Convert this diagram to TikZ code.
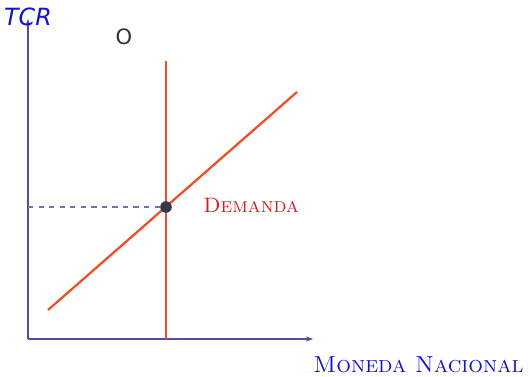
\documentclass[tikz,border=0pt]{standalone}
\usepackage{fontspec}
\usepackage{xcolor}
\usetikzlibrary{arrows.meta,positioning}
\newfontfamily\dejavu{DejaVu Sans}
\definecolor{axisviolet}{RGB}{95,70,160}
\definecolor{curvered}{RGB}{240,80,40}
\definecolor{labelblue}{RGB}{20,20,200}
\definecolor{labelred}{RGB}{215,25,30}
\definecolor{dotgray}{RGB}{55,55,75}

\begin{document}
\begin{tikzpicture}[
  x=0.02cm,
  y=-0.02cm,
  axis/.style={-{Stealth[length=4pt,width=3pt]}, line width=1pt, color=axisviolet},
  curve/.style={line width=1.3pt, color=curvered},
  guide/.style={dashed, line width=0.6pt, color=axisviolet!80},
  label/.style={inner sep=0pt}
]
  \useasboundingbox (0,0) rectangle (530,376);

  \coordinate (origin) at (28,339);
  \coordinate (ytop) at (28,19);
  \coordinate (xend) at (313,339);
  \coordinate (offertop) at (166,61);
  \coordinate (offerbottom) at (166,339);
  \coordinate (demandlow) at (48,310);
  \coordinate (demandhigh) at (297,92);
  \coordinate (yeq) at (28,207);

  \draw[axis] (origin) -- (ytop);
  \draw[axis] (origin) -- (xend);
  \draw[curve] (offerbottom) -- (offertop);
  \draw[curve] (demandlow) -- (demandhigh);
  \node[circle, fill=dotgray, inner sep=0pt, minimum size=6.6pt] (equil) at (166,207) {};
  \draw[guide] (yeq) -- (equil);

  \node[label, text=labelblue, font=\dejavu\itshape\fontsize{13.5}{15}\selectfont] (tcr) at (28,17) {TCR};
  \node[label, text=black!80, font=\dejavu\fontsize{12}{14}\selectfont] (offer) at (124,37) {O};
  \node[label, text=labelred, font=\fontsize{11.9}{13}\selectfont, anchor=west] (demand) at (203,205) {\textsc{Demanda}};
  \node[label, text=labelblue, font=\fontsize{13.2}{15}\selectfont, anchor=west] (currency) at (313,365) {\textsc{Moneda Nacional}};
\end{tikzpicture}
\end{document}
